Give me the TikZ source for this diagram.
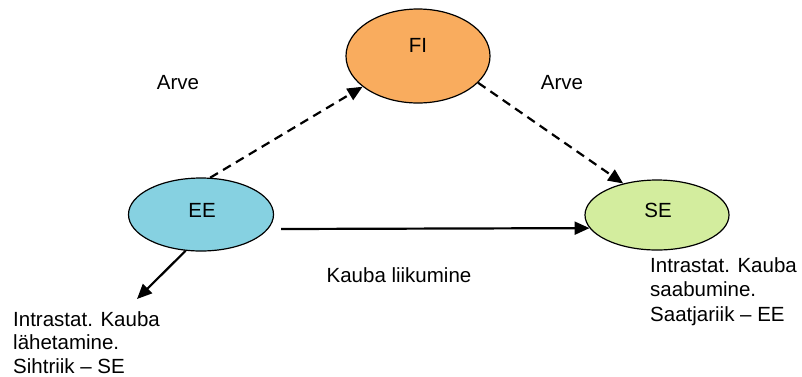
\documentclass[tikz,border=0pt]{standalone}
\usepackage{fontspec}
\setmainfont{Liberation Sans}
\usetikzlibrary{shapes.geometric,arrows.meta}
\definecolor{fiorange}{HTML}{F9AC5E}
\definecolor{eeblue}{HTML}{86D1E1}
\definecolor{segreen}{HTML}{D3ED9E}
\tikzset{
  country/.style={ellipse,draw=black,line width=1.2pt,inner sep=0pt},
  lbl/.style={font=\fontsize{20.5}{24.5}\selectfont,inner sep=0pt},
  multilbl/.style={lbl,align=left,anchor=north west},
  flow/.style={line width=2.2pt,-{Triangle[length=15pt,width=13pt]}},
  invoice/.style={flow,dash pattern=on 9pt off 6pt},
}
\begin{document}
\begin{tikzpicture}[x=1pt,y=-1pt]
\useasboundingbox (0,0) rectangle (802,376);
\node[country,fill=fiorange,minimum width=144pt,minimum height=94pt] (FI) at (418,56) {};
\node[country,fill=eeblue,minimum width=145pt,minimum height=73pt] (EE) at (201,214.5) {};
\node[country,fill=segreen,minimum width=144pt,minimum height=70pt] (SE) at (657,215) {};
\node[lbl] (fit) at (418,45) {FI};
\node[lbl] (eet) at (202,210) {EE};
\node[lbl] (set) at (658,210) {SE};
\node[lbl] (arve1) at (178,83) {Arve};
\node[lbl] (arve2) at (562,83) {Arve};
\node[lbl] (kauba) at (399,275) {Kauba liikumine};
\node[multilbl] (selbl) at (650,257) {Intrastat. Kauba\\saabumine.\\Saatjariik – EE};
\node[multilbl,font=\fontsize{20.5}{23.7}\selectfont] (eelbl) at (13,311) {Intrastat. Kauba\\lähetamine.\\Sihtriik – SE};
\coordinate (kstart) at (281,229);
\coordinate (ltip) at (137,299);
\draw[invoice] (EE.76) -- (FI.209);
\draw[invoice] (FI.-24) -- (SE.137);
\draw[flow] (kstart) -- (SE.191);
\draw[flow] (EE.247) -- (ltip);
\end{tikzpicture}
\end{document}
